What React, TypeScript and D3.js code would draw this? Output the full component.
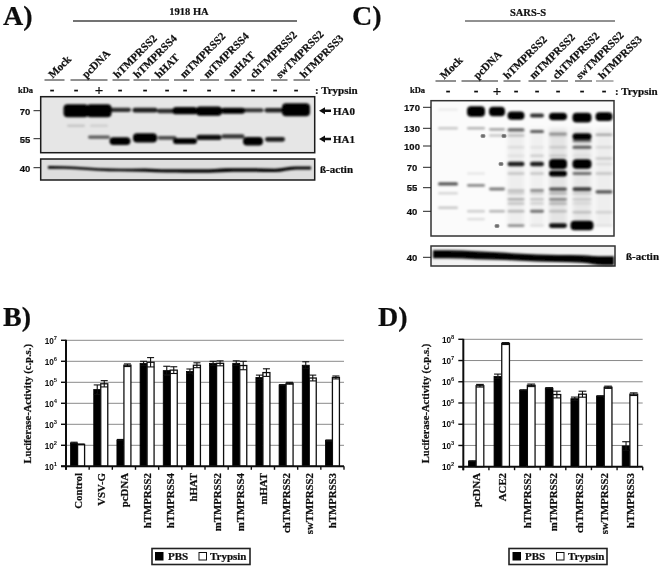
import React from "react";
import * as d3 from "d3";

// ---------- data ----------
const laneLabelsA = ["Mock", "pcDNA", "hTMPRSS2", "hTMPRSS4", "hHAT", "mTMPRSS2", "mTMPRSS4", "mHAT", "chTMPRSS2", "swTMPRSS2", "hTMPRSS3"];
const trypsinA = ["-", "-", "+", "-", "-", "-", "-", "-", "-", "-", "-", "-"];
const ha0Intensity = [0, 1.05, 1.05, 0.45, 0.5, 0.45, 0.72, 0.85, 0.62, 0.42, 0.48, 1.05];
const ha1Intensity = [0, 0, 0.3, 0.75, 0.85, 0.35, 0.6, 0.55, 0.42, 0.8, 0.5, 0];
const ha0Kda = [70, 70, 70, 70.5, 70.3, 69.8, 70, 69.8, 70, 70.3, 70.3, 70.6];
const ha1Kda = [55, 55, 55.8, 53.9, 55.4, 55.4, 53.9, 55.6, 56.1, 53.8, 54.7, 55];
const smearA = [0, 0.07, 0.05, 0, 0, 0, 0, 0, 0, 0, 0, 0];
const actinAKda = [40.1, 39.9, 39.4, 39.2, 39.2, 38.9, 38.9, 38.9, 39.2, 39.2, 39.1, 39.9];
const actinAThick = [2.6, 2.4, 2.4, 2.6, 3.2, 3.2, 3.4, 3.6, 3.4, 3.4, 3.4, 3];

const laneLabelsC = ["Mock", "pcDNA", "hTMPRSS2", "mTMPRSS2", "chTMPRSS2", "swTMPRSS2", "hTMPRSS3"];
const trypsinC = ["-", "-", "+", "-", "-", "-", "-", "-"];
const bandRowsC: { kda: number[]; level: number[] }[] = [
  { kda: [165, 161, 161, 153, 153, 151, 149, 151], level: [0.03, 1, 0.95, 0.85, 0.45, 0.8, 0.95, 0.9] },
  { kda: [130, 130, 128, 127, 124, 120, 115, 118], level: [0.1, 0.14, 0.16, 0.28, 0.3, 0.17, 0.72, 0.14] },
  { kda: [117, 117, 117, 117, 117, 117, 108, 117], level: [0, 0, 0.1, 0.1, 0, 0.07, 0.25, 0] },
  { kda: [98, 98, 98, 98, 98, 98, 98, 98], level: [0, 0, 0, 0.04, 0.03, 0.06, 0.3, 0.05] },
  { kda: [85, 85, 85, 85, 85, 85, 85, 81], level: [0, 0, 0, 0.03, 0.07, 0.06, 0.02, 0.08] },
  { kda: [74, 74, 74, 74, 74, 74, 74, 74], level: [0, 0, 0, 0.5, 0.5, 0.98, 0.95, 0.04] },
  { kda: [65, 65, 65, 65, 65, 65, 65, 65], level: [0, 0.04, 0, 0.09, 0.09, 0.65, 0.25, 0.09] },
  { kda: [57.5, 56.5, 54, 53, 53, 54, 54, 52], level: [0.33, 0.22, 0.25, 0.1, 0.2, 0.33, 0.4, 0.33] },
  { kda: [51, 51, 51, 51, 51, 51, 51, 51], level: [0.07, 0, 0, 0.06, 0.06, 0.11, 0.06, 0] },
  { kda: [47, 47, 47, 47, 47, 47, 47, 47], level: [0, 0, 0, 0.13, 0.09, 0.2, 0.07, 0] },
  { kda: [44.5, 44.5, 44.5, 44.5, 44.5, 44.5, 44.5, 44.5], level: [0, 0, 0, 0.09, 0.07, 0.11, 0.04, 0] },
  { kda: [42, 40, 40, 40, 40, 40, 39.5, 39.5], level: [0.1, 0.09, 0.14, 0.12, 0.26, 0.09, 0.09, 0.06] },
  { kda: [36, 36, 36, 36, 36, 36, 36, 36], level: [0, 0.06, 0, 0, 0, 0, 0, 0] },
  { kda: [33, 33, 33, 33, 33, 33, 33, 33], level: [0, 0, 0, 0.2, 0.05, 0.55, 0.95, 0.04] },
];
const smearC = [0, 0, 0, 0.05, 0.045, 0.09, 0.08, 0.05];
const actinCKda = [41.7, 41.2, 40.7, 40.2, 39.6, 39.4, 39.1, 38.1];
const actinCThick = [8, 8, 7.5, 7, 7, 7, 7.5, 9];
const starsC = [
  { lane: 1, kda: 117 },
  { lane: 2, kda: 117 },
  { lane: 2, kda: 74 },
  { lane: 2, kda: 33 },
];

const kdaTicksA = [70, 55];
const kdaTicksC = [170, 130, 100, 70, 55, 40];

const catB = ["Control", "VSV-G", "pcDNA", "hTMPRSS2", "hTMPRSS4", "hHAT", "mTMPRSS2", "mTMPRSS4", "mHAT", "chTMPRSS2", "swTMPRSS2", "hTMPRSS3"];
const pbsB = [130, 4.5e4, 180, 8e5, 3.6e5, 3.3e5, 8e5, 8e5, 1.7e5, 7.5e4, 6.5e5, 170];
const trypB = [110, 8.5e4, 6.5e5, 9e5, 3.8e5, 6.5e5, 8e5, 6.3e5, 2.9e5, 9e4, 1.6e5, 1.7e5];
const pbsHiB = [140, 7.5e4, 190, 1e6, 5.8e5, 4.3e5, 1e6, 1.05e6, 2.2e5, 7.7e4, 9.5e5, 180];
const trypHiB = [115, 1.2e5, 7.5e5, 1.5e6, 5.5e5, 8.5e5, 1.05e6, 1e6, 4.4e5, 1e5, 2.2e5, 2e5];

const catD = ["pcDNA", "ACE2", "hTMPRSS2", "mTMPRSS2", "chTMPRSS2", "swTMPRSS2", "hTMPRSS3"];
const pbsD = [180, 1.8e6, 4e5, 5e5, 1.6e5, 2.1e5, 950];
const trypD = [6.5e5, 6.3e7, 6.8e5, 2.5e5, 2.6e5, 5.5e5, 2.6e5];
const pbsHiD = [190, 2.3e6, 4.2e5, 5.3e5, 1.9e5, 2.2e5, 1.5e3];
const trypHiD = [7.5e5, 7e7, 7.8e5, 3.6e5, 3.6e5, 6.2e5, 3e5];

const expB = [1, 2, 3, 4, 5, 6, 7];
const expD = [2, 3, 4, 5, 6, 7, 8];
const yTitle = "Luciferase-Activity (c.p.s.)";

// ---------- layout ----------
const SERIF = "'Liberation Serif', 'Times New Roman', serif";
const SANS = "'Liberation Sans', Arial, sans-serif";
const laneXA = [52, 76, 99, 120, 145, 167, 185, 209, 233, 253, 275, 296];
const laneWA = [20, 23, 23, 22, 25, 20, 25, 26, 24, 21, 21, 26];
const groupsA = [[44.5, 64.5], [70.5, 107.5], [112.5, 129.5], [133.5, 149.5], [151, 169], [174, 194], [200, 219], [224.5, 241.5], [247, 264], [271, 287.5], [293.5, 310]];
const startsA = [50, 83.5, 115, 135, 156.5, 181.5, 205, 230, 251.5, 277.5, 301.5];
const laneXC = [448, 476, 497, 516, 537, 558, 582, 604];
const laneWC = [20, 18, 16, 17, 14, 18, 19, 17];
const groupsC = [[435.5, 456], [461.5, 498], [503.5, 520.5], [528.5, 546.5], [551, 568], [575, 592], [596, 613.5]];
const startsC = [441.5, 475, 505, 531, 554, 577.5, 600];

const yA = d3.scaleLog().domain([70, 55]).range([110.7, 138.7]);
const yActinA = d3.scaleLog().domain([40, 35]).range([167.7, 183.2]);
const yC = d3.scaleLog().domain(kdaTicksC).range([107.3, 128.3, 146, 167.3, 187.7, 211.3]);
const yActinC = d3.scaleLog().domain([40, 35]).range([257.3, 266.9]);
const xA = d3.scaleOrdinal<number, number>().domain(laneXA.map((_, i) => i)).range(laneXA);
const xC = d3.scaleOrdinal<number, number>().domain(laneXC.map((_, i) => i)).range(laneXC);
const opacityOf = d3.scaleLinear().domain([0, 0.3, 0.6]).range([0, 0.62, 1]).clamp(true);

function Label(p: { x: number; y: number; t: string; size?: number; anchor?: string; font?: string; fill?: string; rotate?: number }) {
  const tr = p.rotate ? `rotate(${p.rotate} ${p.x} ${p.y})` : undefined;
  const fill = p.fill ?? "#111";
  return (
    <text x={p.x} y={p.y} transform={tr} fontFamily={p.font ?? SERIF} fontWeight="bold" fontSize={p.size ?? 11}
      textAnchor={p.anchor ?? "start"} dominantBaseline="central" fill={fill} stroke={fill} strokeWidth={0.22}>{p.t}</text>
  );
}

function band(key: string, x: number, w: number, y: number, level: number, k: number) {
  if (level <= 0) return null;
  const t = 2.4 + k * level * level;
  return <rect key={key} x={x - w / 2} y={y - t / 2} width={w} height={t} rx={Math.min(t / 2, 4)} fill="#000" opacity={opacityOf(level)} />;
}

function actinArea(xs: number[], ys: number[], th: number[], x0: number, x1: number) {
  const xx = [x0, ...xs, x1];
  const yy = [ys[0], ...ys, ys[ys.length - 1]];
  const tt = [th[0], ...th, th[th.length - 1]];
  return d3.area<number>().x((_, i) => xx[i]).y0((_, i) => yy[i] - tt[i] / 2).y1((_, i) => yy[i] + tt[i] / 2).curve(d3.curveMonotoneX)(xx) as string;
}

function BlotA() {
  return (
    <g>
      <Label x={3} y={15} t="A)" size={28} />
      <Label x={189} y={11} t="1918 HA" size={10.5} anchor="middle" />
      <line x1={73} x2={297} y1={21} y2={21} stroke="#444" strokeWidth={1.5} />
      {laneLabelsA.map((t, i) => <Label key={t + i} x={startsA[i]} y={76} t={t} rotate={-45} />)}
      {groupsA.map((g, i) => <line key={i} x1={g[0]} x2={g[1]} y1={80} y2={80} stroke="#222" strokeWidth={1} />)}
      <Label x={18} y={89.5} t="kDa" size={8.5} />
      {trypsinA.map((t, i) => <Label key={i} x={xA(i)} y={89.5} t={t} anchor="middle" size={t === "+" ? 15 : 14} />)}
      <Label x={315} y={90} t=": Trypsin" />
      <rect x={40.7} y={96.7} width={274} height={56} fill="#e6e6e6" stroke="#1a1a1a" strokeWidth={1.5} />
      <g filter="url(#softA)">
        {ha0Intensity.map((v, i) => band("a0" + i, xA(i), laneWA[i] + (v > 1 ? 2 : 0), yA(ha0Kda[i]), v, 9.5))}
        {ha1Intensity.map((v, i) => band("a1" + i, xA(i), laneWA[i] - 1, yA(ha1Kda[i]), v, 9.5))}
        {smearA.map((v, i) => band("as" + i, xA(i), 18, yA(61.5), v, 8))}
      </g>
      {kdaTicksA.map((k) => (
        <g key={k}>
          <Label x={25} y={yA(k) + 0.5} t={String(k)} size={9.5} font={SANS} anchor="middle" />
          <line x1={33.5} x2={40} y1={yA(k)} y2={yA(k)} stroke="#222" strokeWidth={1} />
        </g>
      ))}
      <path d="M319,110.7 l6,-3.5 v2.2 h6 v2.6 h-6 v2.2 z" fill="#111" />
      <path d="M319,139 l6,-3.5 v2.2 h6 v2.6 h-6 v2.2 z" fill="#111" />
      <Label x={333} y={110.5} t="HA0" />
      <Label x={333} y={139} t="HA1" />
      <rect x={40.7} y={159} width={274} height={21} fill="#dedede" stroke="#1a1a1a" strokeWidth={1.5} />
      <path filter="url(#softA)" d={actinArea(laneXA, actinAKda.map((k) => yActinA(k)), actinAThick, 48, 311)} fill="#000" />
      <Label x={25} y={yActinA(40) + 0.5} t="40" size={9.5} font={SANS} anchor="middle" />
      <line x1={33.5} x2={40} y1={yActinA(40)} y2={yActinA(40)} stroke="#222" strokeWidth={1} />
      <Label x={320} y={169} t="ß-actin" />
    </g>
  );
}

function BlotC() {
  return (
    <g>
      <Label x={352} y={15} t="C)" size={28} />
      <Label x={528} y={12} t="SARS-S" size={10.5} anchor="middle" />
      <line x1={465} x2={615} y1={21} y2={21} stroke="#222" strokeWidth={1} />
      {laneLabelsC.map((t, i) => <Label key={t + i} x={startsC[i]} y={77} t={t} rotate={-45} />)}
      {groupsC.map((g, i) => <line key={i} x1={g[0]} x2={g[1]} y1={81} y2={81} stroke={i === 6 ? "#666" : "#222"} strokeWidth={1} />)}
      <Label x={410} y={90} t="kDa" size={8.5} />
      {trypsinC.map((t, i) => <Label key={i} x={xC(i)} y={90.5} t={t} anchor="middle" size={t === "+" ? 15 : 14} />)}
      <Label x={615} y={91} t=": Trypsin" />
      <rect x={431} y={100.7} width={183} height={135.3} fill="#fbfbfb" stroke="#333" strokeWidth={1.5} />
      <g filter="url(#wide)">
        {smearC.map((v, i) => v > 0 && (
          <rect key={i} x={xC(i) - laneWC[i] / 2} y={yC(130)} width={laneWC[i]} height={yC(33) - yC(130)} fill="#000" opacity={v} />
        ))}
      </g>
      <g filter="url(#softC)">
        {bandRowsC.map((row, r) => row.level.map((v, i) =>
          band(`c${r}-${i}`, xC(i), laneWC[i] + (r === 13 && i === 6 ? 4 : 0), yC(row.kda[i]), v, 8)))}
      </g>
      {starsC.map((s, i) => (
        <Label key={i} x={xC(s.lane) + (i === 0 ? 7 : i === 1 ? 7 : i === 2 ? 4 : 0)} y={yC(s.kda) + 1.5} t="*" size={11} anchor="middle" fill="#555" />
      ))}
      {kdaTicksC.map((k) => (
        <g key={k}>
          <Label x={412} y={yC(k)} t={String(k)} size={9.5} font={SANS} anchor="middle" />
          <line x1={423} x2={431} y1={yC(k)} y2={yC(k)} stroke="#222" strokeWidth={1} />
        </g>
      ))}
      <rect x={431} y={246} width={184} height={20} fill="#f2f2f2" stroke="#333" strokeWidth={1.5} />
      <path filter="url(#softA)" d={actinArea(laneXC, actinCKda.map((k) => yActinC(k)), actinCThick, 433, 614)} fill="#000" />
      <Label x={412} y={yActinC(40)} t="40" size={9.5} font={SANS} anchor="middle" />
      <line x1={423} x2={431} y1={yActinC(40)} y2={yActinC(40)} stroke="#222" strokeWidth={1} />
      <Label x={626} y={256} t="ß-actin" />
    </g>
  );
}

function BarPanel(p: {
  letter: string; letterX: number; cats: string[]; exps: number[]; pbs: number[]; tryp: number[]; pbsHi: number[]; trypHi: number[];
  x0: number; x1: number; yTop: number; yBot: number; barW: number; titleX: number; legX: number; legW: number; legOff: number[];
}) {
  const x = d3.scaleBand().domain(p.cats).range([p.x0, p.x1]);
  const y = d3.scaleLog().domain([10 ** p.exps[0], 10 ** p.exps[p.exps.length - 1]]).range([p.yBot, p.yTop]);
  const base = y.range()[0];
  const whisker = (k: string, cx: number, v: number, hi: number) => {
    const lo = (v * v) / hi;
    const cw = p.barW / 2;
    return (
      <g key={k} stroke="#111" strokeWidth={1.1}>
        <line x1={cx} x2={cx} y1={y(hi)} y2={y(lo)} />
        <line x1={cx - cw} x2={cx + cw} y1={y(hi)} y2={y(hi)} />
        <line x1={cx - cw} x2={cx + cw} y1={y(lo)} y2={y(lo)} />
      </g>
    );
  };
  return (
    <g>
      <Label x={p.letterX} y={316} t={p.letter + ")"} size={28} />
      {p.exps.map((e) => (
        <g key={e}>
          {e !== p.exps[0] && <line x1={p.x0} x2={p.x1} y1={y(10 ** e)} y2={y(10 ** e)} stroke="#8a8a8a" strokeWidth={1} />}
          <line x1={p.x0 - 5} x2={p.x0} y1={y(10 ** e)} y2={y(10 ** e)} stroke="#111" strokeWidth={1.4} />
          <text x={p.x0 - 9} y={y(10 ** e) + 3.2} textAnchor="end" fontFamily={SANS} fontWeight="bold" fontSize={8.2} fill="#111">
            10<tspan dy={-3.5} fontSize={5.8}>{e}</tspan>
          </text>
        </g>
      ))}
      {p.cats.map((c, i) => {
        const cx = (x(c) as number) + x.bandwidth() / 2;
        return (
          <g key={c}>
            <rect x={cx - p.barW} y={y(p.pbs[i])} width={p.barW} height={base - y(p.pbs[i])} fill="#000" stroke="#000" strokeWidth={0.8} />
            <rect x={cx} y={y(p.tryp[i])} width={p.barW} height={base - y(p.tryp[i])} fill="#fff" stroke="#111" strokeWidth={1.3} />
            {whisker("p", cx - p.barW / 2, p.pbs[i], p.pbsHi[i])}
            {whisker("t", cx + p.barW / 2, p.tryp[i], p.trypHi[i])}
            <Label x={cx} y={473} t={c} size={10.8} anchor="end" rotate={-90} />
          </g>
        );
      })}
      {d3.range(p.cats.length + 1).map((i) => {
        const tx = p.x0 + i * x.bandwidth();
        return <line key={i} x1={tx} x2={tx} y1={base} y2={base + 3.5} stroke="#111" strokeWidth={1.4} />;
      })}
      <line x1={p.x0} x2={p.x0} y1={p.yTop - 0.5} y2={base + 3.5} stroke="#111" strokeWidth={2} />
      <line x1={p.x0 - 5} x2={p.x1} y1={base} y2={base} stroke="#111" strokeWidth={2} />
      <Label x={p.titleX} y={(p.yTop + p.yBot) / 2 + 0.5} t={yTitle} size={10.6} anchor="middle" rotate={-90} />
      <rect x={p.legX} y={548.5} width={p.legW} height={16} fill="#fff" stroke="#222" strokeWidth={1.6} />
      <rect x={p.legX + p.legOff[0]} y={552} width={8.5} height={8.5} fill="#000" />
      <Label x={p.legX + p.legOff[1]} y={556} t="PBS" size={11} />
      <rect x={p.legX + p.legOff[2]} y={552.5} width={7.5} height={7.5} fill="#fff" stroke="#111" strokeWidth={1} />
      <Label x={p.legX + p.legOff[3]} y={556} t="Trypsin" size={11} />
    </g>
  );
}

export default function App() {
  return (
    <svg width={661} height={569} viewBox="0 0 661 569" style={{ position: "absolute", left: 0, top: 0, background: "#fff" }}>
      <defs>
        <filter id="softA" filterUnits="userSpaceOnUse" x="0" y="0" width="661" height="569">
          <feGaussianBlur stdDeviation={0.9} />
        </filter>
        <filter id="softC" filterUnits="userSpaceOnUse" x="0" y="0" width="661" height="569">
          <feGaussianBlur stdDeviation={1.1} />
        </filter>
        <filter id="wide" filterUnits="userSpaceOnUse" x="0" y="0" width="661" height="569">
          <feGaussianBlur stdDeviation={2.2} />
        </filter>
        <filter id="jpeg" filterUnits="userSpaceOnUse" x="0" y="0" width="661" height="569">
          <feGaussianBlur stdDeviation={0.3} />
        </filter>
      </defs>
      <g filter="url(#jpeg)">
        <BlotA />
        <BlotC />
        <BarPanel letter="B" letterX={3} cats={catB} exps={expB} pbs={pbsB} tryp={trypB} pbsHi={pbsHiB} trypHi={trypHiB}
          x0={66} x1={344} yTop={340.3} yBot={466.3} barW={7} titleX={28} legX={152} legW={98} legOff={[3, 16, 47, 58]} />
        <BarPanel letter="D" letterX={378} cats={catD} exps={expD} pbs={pbsD} tryp={trypD} pbsHi={pbsHiD} trypHi={trypHiD}
          x0={463.3} x1={642.7} yTop={339.3} yBot={466.7} barW={7.7} titleX={425} legX={509} legW={98} legOff={[3.5, 16, 47.5, 59]} />
      </g>
    </svg>
  );
}
